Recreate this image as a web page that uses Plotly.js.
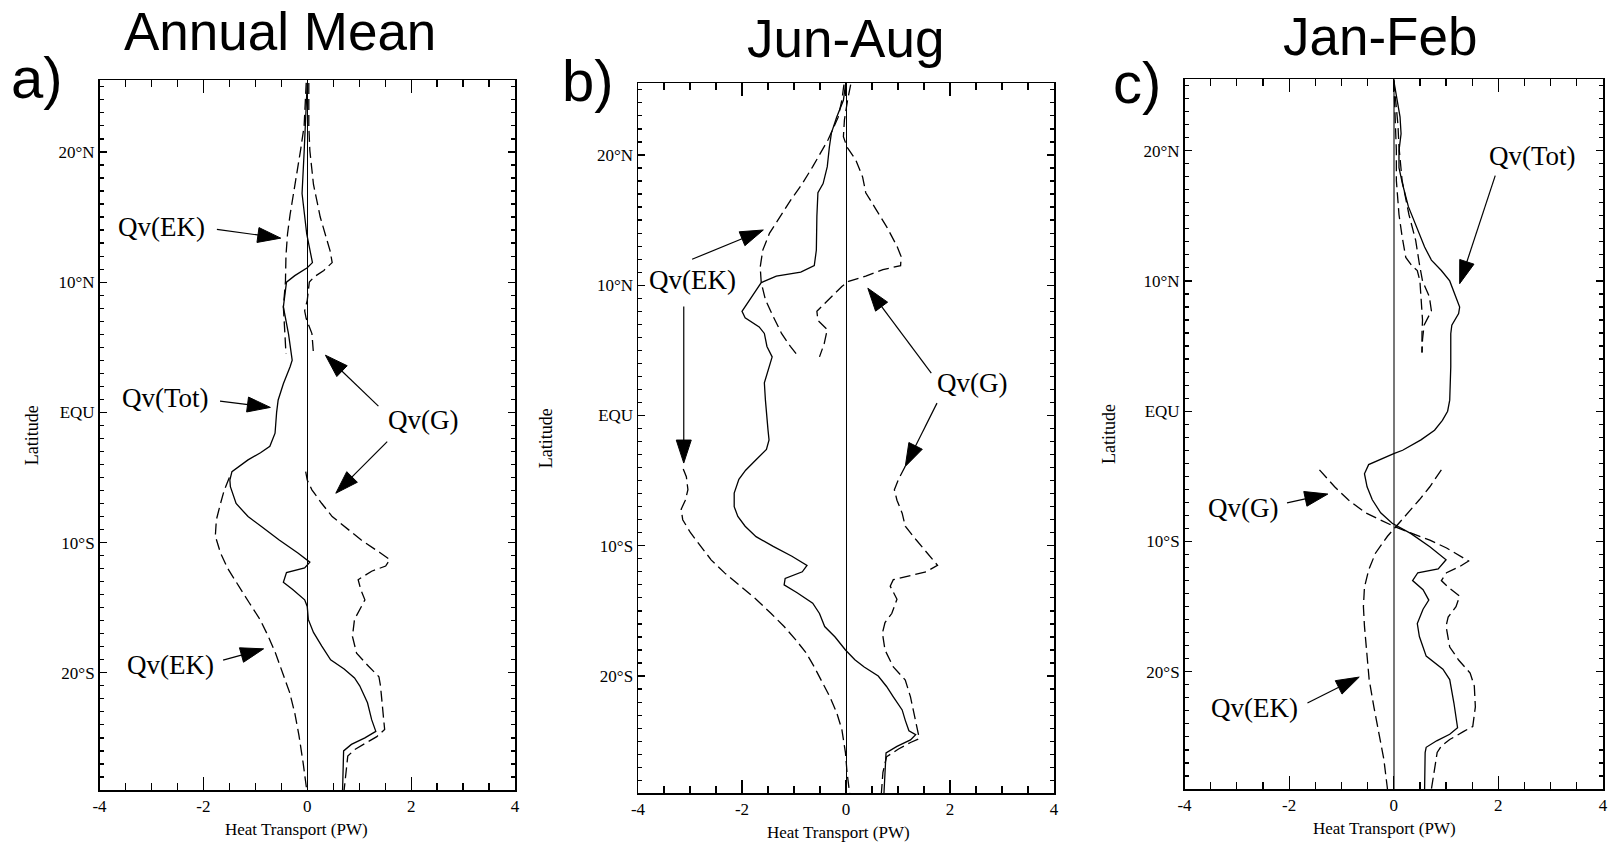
<!DOCTYPE html>
<html>
<head>
<meta charset="utf-8">
<script src="https://cdn.plot.ly/plotly-3.0.1.min.js"></script>
<style>html,body{margin:0;padding:0;background:#fff}#chart{width:1608px;height:851px}</style>
</head>
<body>
<div id="chart"></div>
<script>
// ---------------- DATA ----------------
// Panel a) Annual Mean
const annTotLat = [25.3,22,20,16.8,13.7,11.5,11.1,10.5,10.0,8.1,7.3,6.0,4.0,3.5,2.2,0.95,0,-1.6,-2.6,-3.1,-3.65,-4.2,-4.55,-5.2,-5.7,-7.0,-8.0,-8.8,-9.8,-10.8,-11.5,-11.95,-12.3,-13.05,-13.6,-14.4,-14.9,-15.9,-16.9,-17.95,-19.0,-19.7,-20.4,-21.0,-22.3,-23.6,-24.5,-25.0,-25.5,-26.0,-29];
const annTot    = [0.0,-0.03,-0.06,-0.1,-0.01,0.1,0.0,-0.24,-0.4,-0.46,-0.42,-0.36,-0.29,-0.33,-0.46,-0.56,-0.59,-0.62,-0.72,-0.9,-1.14,-1.34,-1.45,-1.49,-1.48,-1.37,-1.14,-0.87,-0.54,-0.18,0.05,-0.05,-0.4,-0.46,-0.28,-0.05,0.0,0.02,0.12,0.28,0.45,0.71,0.91,1.01,1.16,1.24,1.32,1.11,0.85,0.70,0.68];
const annEkLat  = [25.3,22,20.1,17.5,15.2,13.7,12,10.0,8.1,6.0,4.5,null,-5.0,-6.0,-7.0,-8.25,-9.5,-10.8,-12.0,-13.4,-14.6,-15.9,-17.2,-18.5,-20,-21.5,-23.1,-24.8,-26.9,-29];
const annEk     = [-0.02,-0.06,-0.13,-0.24,-0.33,-0.38,-0.41,-0.42,-0.46,-0.43,-0.41,null,-1.5,-1.6,-1.67,-1.75,-1.77,-1.67,-1.53,-1.3,-1.12,-0.91,-0.75,-0.61,-0.48,-0.34,-0.24,-0.16,-0.08,-0.01];
const annGLat   = [25.3,22,20.1,17.5,15.0,12.4,11.5,10.9,10.4,10.0,8.6,7.8,7.2,6.05,4.5,null,-4.55,-5.2,-5.95,-7.0,-8.0,-8.76,-9.8,-10.8,-11.3,-11.8,-12.2,-12.85,-13.6,-14.4,-15.1,-15.9,-17.2,-18.5,-19.5,-20.3,-21.0,-23.1,-24.35,-24.9,-25.4,-25.9,-26.4,-29];
const annG      = [0.03,0.03,0.05,0.12,0.25,0.44,0.48,0.32,0.13,0.04,0.0,-0.05,-0.02,0.09,0.12,null,-0.03,0.0,0.09,0.28,0.48,0.71,1.04,1.41,1.59,1.51,1.24,0.98,1.03,1.11,1.01,0.91,0.87,0.95,1.18,1.38,1.41,1.46,1.49,1.34,1.11,0.91,0.78,0.71];

// Panel b) Jun-Aug
const jjaTotLat = [25.4,24.2,22.9,21.7,20.6,19.1,17.8,17.1,15.3,12.7,11.5,11.0,10.7,10.2,9.6,8.9,8.0,7.5,6.8,6.3,5.3,4.5,3.8,2.5,1.2,0,-1.1,-1.87,-2.6,-3.4,-4.2,-4.9,-5.96,-7.0,-7.75,-8.5,-9.3,-10.05,-10.8,-11.5,-12.0,-12.5,-13.0,-13.6,-14.4,-15.2,-16.2,-17.0,-18.0,-18.75,-19.3,-20.0,-20.8,-21.6,-22.6,-23.4,-24.2,-24.5,-24.9,-25.4,-25.9,-29];
const jjaTot    = [-0.01,-0.05,-0.18,-0.28,-0.32,-0.36,-0.44,-0.54,-0.56,-0.57,-0.61,-0.87,-1.34,-1.63,-1.73,-1.85,-2.0,-1.94,-1.67,-1.57,-1.52,-1.42,-1.47,-1.57,-1.55,-1.53,-1.5,-1.48,-1.53,-1.73,-1.93,-2.06,-2.15,-2.15,-2.08,-1.94,-1.73,-1.40,-1.04,-0.75,-0.84,-1.17,-1.19,-0.94,-0.64,-0.51,-0.41,-0.21,-0.01,0.17,0.35,0.62,0.78,0.91,1.08,1.14,1.21,1.34,1.24,0.98,0.77,0.73];
const jjaEkLat  = [25.4,24.2,22.9,21.2,19.1,17.8,16.5,15.3,14.0,12.7,11.4,10.2,8.9,7.6,6.3,5.3,4.5,null,-4.1,-4.7,-5.7,-6.5,-7.2,-8.0,-9.0,-10.05,-11.1,-12.1,-13.1,-14.1,-15.2,-16.2,-17.2,-18.2,-19.3,-20.3,-21.6,-22.8,-24.1,-25.9,-27.4,-29];
const jjaEk     = [-0.04,-0.08,-0.15,-0.34,-0.64,-0.84,-1.07,-1.27,-1.47,-1.6,-1.65,-1.63,-1.55,-1.40,-1.24,-1.07,-0.91,null,-3.13,-3.07,-3.04,-3.09,-3.17,-3.14,-2.99,-2.79,-2.59,-2.33,-2.03,-1.73,-1.44,-1.19,-0.97,-0.77,-0.61,-0.48,-0.31,-0.18,-0.08,-0.01,0.02,0.07];
const jjaGLat   = [25.4,24.2,22.7,21.4,20.6,19.6,18.3,17.1,16.0,14.5,13.0,12.2,11.5,11.2,10.7,10.3,9.9,8.9,8.0,7.3,6.6,5.5,4.5,null,-3.9,-4.9,-5.7,-6.5,-7.5,-8.5,-9.5,-10.6,-11.5,-12.0,-12.2,-12.6,-13.1,-14.1,-15.2,-15.9,-16.7,-18.0,-19.3,-20.3,-21.6,-23.4,-24.4,-24.8,-25.1,-25.6,-26.2,-27.4,-29];
const jjaG      = [0.09,0.03,-0.03,-0.05,0.02,0.19,0.32,0.38,0.55,0.78,0.98,1.06,1.05,0.71,0.38,0.05,-0.08,-0.34,-0.56,-0.54,-0.36,-0.42,-0.51,null,1.14,1.01,0.93,0.98,1.08,1.14,1.34,1.57,1.76,1.54,1.31,0.91,0.85,0.98,0.88,0.75,0.70,0.75,0.91,1.14,1.24,1.33,1.38,1.41,1.24,1.01,0.78,0.71,0.68];

// Panel c) Jan-Feb
const jfTotLat  = [25.4,23.8,22.6,21.3,20.0,18.7,17.4,15.7,13.6,12.6,11.6,10.8,10.0,9.0,8.0,7.5,6.6,5.95,3.4,0.85,0,-0.7,-1.46,-2.2,-3.0,-3.25,-3.76,-4.1,-4.8,-5.8,-6.8,-7.8,-8.6,-9.4,-10.4,-11.4,-12.1,-12.4,-13.0,-13.7,-14.5,-15.2,-16.3,-17.3,-18.8,-19.8,-20.6,-22.4,-24.3,-24.8,-25.3,-25.8,-26.2,-29];
const jfTot     = [0.0,0.07,0.12,0.14,0.1,0.1,0.17,0.28,0.49,0.59,0.72,0.91,1.07,1.17,1.26,1.24,1.11,1.09,1.09,1.07,1.03,0.93,0.78,0.52,0.17,0.0,-0.28,-0.48,-0.56,-0.51,-0.41,-0.25,-0.03,0.33,0.69,1.0,0.85,0.46,0.36,0.56,0.67,0.56,0.45,0.49,0.62,0.94,1.07,1.15,1.22,1.07,0.82,0.62,0.6,0.59];
const jfEkLat   = [25.4,22,20,17.7,15.1,13.4,11.8,11.1,10.8,10.0,8.5,7.0,6.0,4.5,null,-4.5,-5.8,-6.8,-7.8,-8.9,-9.6,-10.9,-12.2,-13.5,-15.0,-16.5,-18.6,-20.6,-22.7,-24.7,-26.7,-29];
const jfEk      = [0.0,0.03,0.05,0.05,0.1,0.16,0.23,0.36,0.45,0.5,0.52,0.55,0.54,0.54,null,0.91,0.69,0.49,0.27,0.04,-0.12,-0.35,-0.48,-0.56,-0.58,-0.56,-0.51,-0.47,-0.38,-0.28,-0.19,-0.12];
const jfGLat    = [25.4,22,20.3,17.7,15.1,13.1,11.3,10.0,8.8,7.7,6.6,5.5,4.5,null,-4.5,-5.8,-6.8,-7.8,-8.3,-8.9,-9.4,-9.9,-10.5,-11.2,-11.5,-11.9,-12.4,-13.0,-13.5,-14.2,-15.0,-15.8,-16.5,-18.1,-19.1,-20.1,-21.1,-22.7,-24.2,-24.6,-25.2,-25.7,-26.2,-29];
const jfG       = [0.0,0.08,0.1,0.16,0.29,0.42,0.49,0.55,0.68,0.72,0.58,0.55,0.54,null,-1.42,-1.13,-0.87,-0.54,-0.28,0.04,0.36,0.69,1.01,1.30,1.43,1.27,1.01,0.91,1.04,1.26,1.19,1.04,1.0,1.07,1.24,1.46,1.54,1.56,1.51,1.33,1.07,0.91,0.83,0.72];

// Axis ticks / labels
const xTickVals = [-4,-2,0,2,4];
const xTickText = ['-4','-2','0','2','4'];
const yTickVals = [20,10,0,-10,-20];
const yTickText = ['20°N','10°N','EQU','10°S','20°S'];
const panelTitles = ['Annual Mean','Jun-Aug','Jan-Feb'];
const panelLetters = ['a)','b)','c)'];
const xTitle = 'Heat Transport (PW)';
const yTitle = 'Latitude';

// Labels: panel, text, x (PW), latitude
const labelPanel = [0,0,0,0, 1,1, 2,2,2];
const labelText  = ['Qv(EK)','Qv(Tot)','Qv(G)','Qv(EK)', 'Qv(EK)','Qv(G)', 'Qv(Tot)','Qv(G)','Qv(EK)'];
const labelX     = [-2.81,-2.73,2.22,-2.63, -2.96,2.43, 2.65,-2.88,-2.67];
const labelLat   = [14.2,1.1,-0.6,-19.4, 10.4,2.5, 19.6,-7.4,-22.8];
// Arrows: panel, tail x, tail lat, tip x, tip lat
const arrowPanel = [0,0,0,0,0, 1,1,1,1, 2,2,2];
const arrowTailX = [-1.74,-1.68,1.37,1.54,-1.62, -2.96,-3.12,1.64,1.75, 1.94,-2.04,-1.65];
const arrowTailY = [14.05,0.87,0.48,-2.25,-19.03, 11.99,8.36,3.25,0.95, 18.08,-7.03,-22.4];
const arrowTipX  = [-0.51,-0.71,0.35,0.55,-0.84, -1.59,-3.12,0.42,1.14, 1.26,-1.26,-0.66];
const arrowTipY  = [13.38,0.38,4.39,-6.21,-18.16, 14.24,-3.65,9.77,-3.91, 9.79,-6.36,-20.41];

// ---------------- LAYOUT ----------------
const W = 1608, H = 851;
const dom = [ // pixel boxes [left,right,top,bottom]
  [99.5, 515, 80.3, 790],
  [638, 1054, 83.3, 793.3],
  [1184.5, 1603, 79, 789]
];
const titlePos  = [[279.5, 32], [845.5, 38], [1380, 37]];
const letterPos = [[37, 78], [588, 80], [1137, 82]];
const xTitlePos = [[296.5, 829], [838, 832], [1384.5, 828]];
const yStandoff = [15, 39, 23];
const XR = [-4, 4], YR = [-29, 25.5];
const serif = 'Liberation Serif, Times New Roman, serif';
const sans = 'Liberation Sans, Arial, sans-serif';

const traces = [];
const series = [
  [[annTotLat, annTot, 'solid'], [annEkLat, annEk, 'dash'], [annGLat, annG, 'dash']],
  [[jjaTotLat, jjaTot, 'solid'], [jjaEkLat, jjaEk, 'dash'], [jjaGLat, jjaG, 'dash']],
  [[jfTotLat, jfTot, 'solid'], [jfEkLat, jfEk, 'dash'], [jfGLat, jfG, 'dash']]
];
const names = ['Qv(Tot)','Qv(EK)','Qv(G)'];
series.forEach((ps, i) => {
  const sfx = i === 0 ? '' : String(i + 1);
  ps.forEach((s, j) => {
    traces.push({
      type: 'scatter', mode: 'lines', x: s[1], y: s[0], name: names[j] + ' ' + panelTitles[i],
      xaxis: 'x' + sfx, yaxis: 'y' + sfx, connectgaps: false, showlegend: false, hoverinfo: 'skip',
      line: {color: '#000', width: 1.3, dash: s[2] === 'solid' ? 'solid' : '11px,5px'}
    });
  });
});

const layout = {
  width: W, height: H, margin: {l: 0, r: 0, t: 0, b: 0},
  paper_bgcolor: '#fff', plot_bgcolor: '#fff', showlegend: false,
  annotations: [], shapes: []
};

dom.forEach((d, i) => {
  const sfx = i === 0 ? '' : String(i + 1);
  const zc = i === 2 ? '#777' : '#000';
  const zw = i === 2 ? 2 : 1;
  layout['xaxis' + sfx] = {
    domain: [d[0] / W, d[1] / W], anchor: 'y' + sfx, range: XR, fixedrange: true,
    tickmode: 'array', tickvals: xTickVals, ticktext: xTickText,
    ticks: 'inside', ticklen: 13, tickwidth: 1.2, tickcolor: '#000',
    minor: {tickmode: 'linear', tick0: 0, dtick: 0.5, ticks: 'inside', ticklen: 7, tickwidth: 1.2, tickcolor: '#000', showgrid: false},
    showline: true, linecolor: '#000', linewidth: 1.5, mirror: 'allticks',
    showgrid: false, zeroline: true, zerolinecolor: zc, zerolinewidth: zw,
    tickfont: {family: serif, size: 17, color: '#000'}
  };
  layout['yaxis' + sfx] = {
    domain: [1 - d[3] / H, 1 - d[2] / H], anchor: 'x' + sfx, range: YR, fixedrange: true,
    tickmode: 'array', tickvals: yTickVals, ticktext: yTickText,
    ticks: 'inside', ticklen: 7, tickwidth: 1.2, tickcolor: '#000',
    minor: {tickmode: 'linear', tick0: 0, dtick: 1, ticks: 'inside', ticklen: 4, tickwidth: 1.2, tickcolor: '#000', showgrid: false},
    showline: true, linecolor: '#000', linewidth: 1.5, mirror: 'allticks',
    showgrid: false, zeroline: false,
    tickfont: {family: serif, size: 17, color: '#000'},
    title: {text: yTitle, font: {family: serif, size: 18, color: '#000'}, standoff: yStandoff[i]}
  };
  layout.annotations.push({
    xref: 'paper', yref: 'paper', x: xTitlePos[i][0] / W, y: 1 - xTitlePos[i][1] / H,
    text: xTitle, showarrow: false, xanchor: 'center', yanchor: 'middle',
    font: {family: serif, size: 17, color: '#000'}
  });
  layout.annotations.push({
    xref: 'paper', yref: 'paper', x: titlePos[i][0] / W, y: 1 - titlePos[i][1] / H,
    text: panelTitles[i], showarrow: false, xanchor: 'center', yanchor: 'middle',
    font: {family: sans, size: 53, color: '#000'}
  });
  layout.annotations.push({
    xref: 'paper', yref: 'paper', x: letterPos[i][0] / W, y: 1 - letterPos[i][1] / H,
    text: panelLetters[i], showarrow: false, xanchor: 'center', yanchor: 'middle',
    font: {family: sans, size: 58, color: '#000'}
  });
});

labelText.forEach((t, k) => {
  const sfx = labelPanel[k] === 0 ? '' : String(labelPanel[k] + 1);
  layout.annotations.push({
    xref: 'x' + sfx, yref: 'y' + sfx, x: labelX[k], y: labelLat[k], text: t,
    showarrow: false, xanchor: 'center', yanchor: 'middle',
    font: {family: serif, size: 27, color: '#000'}
  });
});

// arrows: line + filled triangular head
arrowTailX.forEach((_, k) => {
  const p = arrowPanel[k];
  const d = dom[p];
  const sfx = p === 0 ? '' : String(p + 1);
  const pxX = (d[1] - d[0]) / (XR[1] - XR[0]);
  const pxY = (d[3] - d[2]) / (YR[1] - YR[0]);
  const tx = arrowTipX[k], ty = arrowTipY[k];
  const sx = (tx - arrowTailX[k]) * pxX, sy = -(ty - arrowTailY[k]) * pxY;
  const len = Math.hypot(sx, sy), ux = sx / len, uy = sy / len;
  const L = 23, Wd = 7.5;
  const bx = -L * ux, by = -L * uy;
  const c1x = bx - Wd * uy, c1y = by + Wd * ux;
  const c2x = bx + Wd * uy, c2y = by - Wd * ux;
  const toD = (ox, oy) => [tx + ox / pxX, ty - oy / pxY];
  const b = toD(bx * 0.8, by * 0.8), c1 = toD(c1x, c1y), c2 = toD(c2x, c2y);
  layout.shapes.push({type: 'line', xref: 'x' + sfx, yref: 'y' + sfx,
    x0: arrowTailX[k], y0: arrowTailY[k], x1: b[0], y1: b[1], line: {color: '#000', width: 1.2}});
  layout.shapes.push({type: 'path', xref: 'x' + sfx, yref: 'y' + sfx,
    path: `M${tx},${ty} L${c1[0]},${c1[1]} L${c2[0]},${c2[1]} Z`,
    fillcolor: '#000', line: {color: '#000', width: 1}});
});

Plotly.newPlot('chart', traces, layout, {staticPlot: true, displayModeBar: false});
</script>
</body>
</html>
